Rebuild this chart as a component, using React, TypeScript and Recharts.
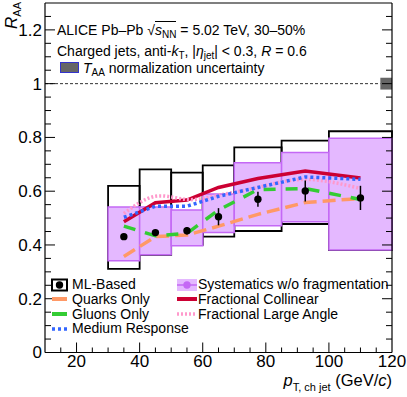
import React from "react";
import {
  ComposedChart,
  Line,
  Scatter,
  ErrorBar,
  XAxis,
  YAxis,
  ReferenceArea,
  ReferenceLine,
  Legend,
} from "recharts";

const FONT = '"Liberation Sans", Arial, Helvetica, sans-serif';

// pT bins (GeV/c)
const binLow = [30, 40, 50, 60, 70, 85, 100];
const binHigh = [40, 50, 60, 70, 85, 100, 120];
const ptCenter = [35, 45, 55, 65, 77.5, 92.5, 110];

// ML-based R_AA with stat. errors
const mlBased = [0.431, 0.446, 0.453, 0.505, 0.57, 0.601, 0.575];
const mlStatErr = [0.008, 0.01, 0.014, 0.032, 0.028, 0.039, 0.045];

// full systematics (open boxes)
const sysTotalLow = [0.311, 0.363, 0.4, 0.431, 0.452, 0.478, 0.381];
const sysTotalHigh = [0.62, 0.681, 0.669, 0.696, 0.763, 0.788, 0.823];

// systematics without fragmentation (filled boxes)
const sysNoFragLow = [0.341, 0.364, 0.397, 0.446, 0.471, 0.486, 0.381];
const sysNoFragHigh = [0.541, 0.541, 0.53, 0.59, 0.706, 0.744, 0.797];

// model variations
const quarksOnly = [0.357, 0.431, 0.437, 0.47, 0.514, 0.558, 0.573];
const gluonsOnly = [0.47, 0.434, 0.443, 0.53, 0.606, 0.61, 0.569];
const mediumResponse = [0.503, 0.544, 0.544, 0.581, 0.614, 0.653, 0.644];
const fracCollinear = [0.486, 0.557, 0.567, 0.614, 0.647, 0.675, 0.649];
const fracLargeAngle = [0.517, 0.581, 0.569, 0.585, 0.614, 0.644, 0.61];

const taaUnc = 0.022;

const xTicks = [15, 20, 25, 30, 35, 40, 45, 50, 55, 60, 65, 70, 75, 80, 85, 90, 95, 100, 105, 110, 115, 120];
const xLabels = [20, 40, 60, 80, 100, 120];
const yTicks = [
  0, 0.05, 0.1, 0.15, 0.2, 0.25, 0.3, 0.35, 0.4, 0.45, 0.5, 0.55, 0.6, 0.65, 0.7, 0.75, 0.8, 0.85, 0.9,
  0.95, 1, 1.05, 1.1, 1.15, 1.2, 1.25,
];
const yLabels = [0, 0.2, 0.4, 0.6, 0.8, 1, 1.2];

const chartData = ptCenter.map((pt, i) => ({
  pt,
  ml: mlBased[i],
  mlErr: mlStatErr[i],
  quarks: quarksOnly[i],
  gluons: gluonsOnly[i],
  medium: mediumResponse[i],
  collinear: fracCollinear[i],
  largeAngle: fracLargeAngle[i],
}));

const near = (a: number, list: number[]) => list.some((v) => Math.abs(v - a) < 1e-6);

function BottomTick(p: any) {
  const v = p.payload.value;
  const major = near(v, xLabels);
  return (
    <g>
      {!near(v, [120]) && <line x1={p.x} x2={p.x} y1={p.y} y2={p.y - (major ? 10 : 5)} stroke="#000" />}
      {major && (
        <text x={p.x} y={p.y + 14.5} textAnchor="middle" fontSize={17} fontFamily={FONT} fill="#000">
          {String(v)}
        </text>
      )}
    </g>
  );
}

function TopTick(p: any) {
  const v = p.payload.value;
  if (near(v, [120])) return <g />;
  const major = near(v, xLabels);
  return <line x1={p.x} x2={p.x} y1={p.y} y2={p.y + (major ? 10 : 5)} stroke="#000" />;
}

function LeftTick(p: any) {
  const v = p.payload.value;
  const major = near(v, yLabels);
  return (
    <g>
      {!near(v, [0]) && <line x1={p.x} x2={p.x + (major ? 10 : 6)} y1={p.y} y2={p.y} stroke="#000" />}
      {major && !near(v, [0]) && (
        <text x={p.x - 3} y={p.y + 6} textAnchor="end" fontSize={17} fontFamily={FONT} fill="#000">
          {String(v)}
        </text>
      )}
    </g>
  );
}

function RightTick(p: any) {
  const v = p.payload.value;
  if (near(v, [0])) return <g />;
  const major = near(v, yLabels);
  return <line x1={p.x} x2={p.x - (major ? 10 : 6)} y1={p.y} y2={p.y} stroke="#000" />;
}

const legendCol1 = [
  { name: "ML-Based", kind: "ml" },
  { name: "Quarks Only", kind: "quarks" },
  { name: "Gluons Only", kind: "gluons" },
  { name: "Medium Response", kind: "medium" },
];
const legendCol2 = [
  { name: "Systematics w/o fragmentation", kind: "sys" },
  { name: "Fractional Collinear", kind: "collinear" },
  { name: "Fractional Large Angle", kind: "largeAngle" },
];

function LegendSymbol({ kind }: { kind: string }) {
  return (
    <svg width={20} height={14} style={{ display: "block" }}>
      {kind === "ml" && (
        <>
          <rect x={1} y={1.5} width={15} height={11} fill="none" stroke="#000" strokeWidth={2} />
          <circle cx={8.5} cy={7} r={3.7} fill="#000" />
        </>
      )}
      {kind === "quarks" && <line x1={1} x2={16} y1={7} y2={7} stroke="#ff9966" strokeWidth={4} />}
      {kind === "gluons" && <line x1={1} x2={16} y1={7} y2={7} stroke="#33cc33" strokeWidth={4} />}
      {kind === "medium" && (
        <line x1={1} x2={16} y1={7} y2={7} stroke="#3366ff" strokeWidth={3.5} strokeDasharray="3 3" />
      )}
      {kind === "sys" && (
        <>
          <rect x={0} y={1} width={20} height={12} fill="#e4b8ff" />
          <line x1={0} x2={20} y1={7} y2={7} stroke="#c468f5" strokeWidth={1.5} />
          <circle cx={10} cy={7} r={3.7} fill="#c468f5" />
        </>
      )}
      {kind === "collinear" && <line x1={0} x2={20} y1={7} y2={7} stroke="#cc0033" strokeWidth={4} />}
      {kind === "largeAngle" && (
        <line x1={0} x2={20} y1={7} y2={7} stroke="#ff99cc" strokeWidth={3.5} strokeDasharray="2 2" />
      )}
    </svg>
  );
}

function LegendBox() {
  const row = (item: { name: string; kind: string }, i: number, left: number) => (
    <div
      key={item.name}
      style={{ position: "absolute", left, top: 277 + i * 14.8, height: 15, display: "flex", alignItems: "center" }}
    >
      <LegendSymbol kind={item.kind} />
      <span style={{ position: "absolute", left: 21, whiteSpace: "nowrap", fontSize: 14, lineHeight: "15px" }}>
        {item.name}
      </span>
    </div>
  );
  return (
    <div style={{ position: "relative", width: 407, height: 1, fontFamily: FONT, color: "#000" }}>
      {legendCol1.map((it, i) => row(it, i, 51))}
      {legendCol2.map((it, i) => row(it, i, 177))}
    </div>
  );
}

const sub: React.CSSProperties = { fontSize: 10, position: "relative", top: 3 };

export default function App() {
  return (
    <div
      style={{ position: "absolute", left: 0, top: 0, width: 407, height: 397, background: "#fff", fontFamily: FONT }}
    >
      <ComposedChart
        width={407}
        height={397}
        data={chartData}
        margin={{ top: 2, right: 14, bottom: 0, left: 0 }}
      >
        <XAxis
          dataKey="pt"
          type="number"
          domain={[10, 120]}
          ticks={xTicks}
          interval={0}
          allowDataOverflow
          height={44.5}
          tickSize={0}
          tickMargin={0}
          tickLine={false}
          axisLine={{ stroke: "#000", strokeWidth: 1.2 }}
          tick={(p: any) => <BottomTick {...p} />}
        />
        <XAxis
          xAxisId="top"
          orientation="top"
          type="number"
          domain={[10, 120]}
          ticks={xTicks}
          interval={0}
          allowDataOverflow
          height={1}
          tickSize={0}
          tickMargin={0}
          tickLine={false}
          axisLine={{ stroke: "#000", strokeWidth: 1.2 }}
          tick={(p: any) => <TopTick {...p} />}
        />
        <YAxis
          type="number"
          domain={[0, 1.3]}
          ticks={yTicks}
          interval={0}
          allowDataOverflow
          width={45}
          tickSize={0}
          tickMargin={0}
          tickLine={false}
          axisLine={{ stroke: "#000", strokeWidth: 1.2 }}
          tick={(p: any) => <LeftTick {...p} />}
        />
        <YAxis
          yAxisId="right"
          orientation="right"
          type="number"
          domain={[0, 1.3]}
          ticks={yTicks}
          interval={0}
          allowDataOverflow
          width={1}
          tickSize={0}
          tickMargin={0}
          tickLine={false}
          axisLine={{ stroke: "#000", strokeWidth: 1.2 }}
          tick={(p: any) => <RightTick {...p} />}
        />

        {binLow.map((lo, i) => (
          <ReferenceArea
            key={`tot-${i}`}
            x1={lo}
            x2={binHigh[i]}
            y1={sysTotalLow[i]}
            y2={sysTotalHigh[i]}
            fill="none"
            stroke="#000"
            strokeWidth={1.8}
          />
        ))}
        {binLow.map((lo, i) => (
          <ReferenceArea
            key={`nofrag-${i}`}
            x1={lo}
            x2={binHigh[i]}
            y1={sysNoFragLow[i]}
            y2={sysNoFragHigh[i]}
            fill="#e4b8ff"
            fillOpacity={1}
            stroke="#c468f5"
            strokeWidth={1.5}
          />
        ))}

        <ReferenceLine
          segment={[
            { x: 10, y: 1 },
            { x: 120 - 3.7, y: 1 },
          ]}
          stroke="#333"
          strokeDasharray="3 2"
          strokeWidth={1}
        />
        <ReferenceArea x1={120 - 3.7} x2={120} y1={1 - taaUnc} y2={1 + taaUnc} fill="#666" fillOpacity={1} />

        <Line dataKey="quarks" stroke="#ff9966" strokeWidth={3.5} strokeDasharray="13 6" dot={false} isAnimationActive={false} />
        <Line dataKey="gluons" stroke="#33cc33" strokeWidth={3.5} strokeDasharray="12 10" dot={false} isAnimationActive={false} />
        <Line dataKey="collinear" stroke="#cc0033" strokeWidth={3.5} dot={false} isAnimationActive={false} />
        <Line
          dataKey="largeAngle"
          type="natural"
          stroke="#ff99cc"
          strokeWidth={3.5}
          strokeDasharray="2 2"
          dot={false}
          isAnimationActive={false}
        />
        <Line dataKey="medium" stroke="#3366ff" strokeWidth={3.5} strokeDasharray="3 3" dot={false} isAnimationActive={false} />

        <Scatter
          dataKey="ml"
          isAnimationActive={false}
          shape={(p: any) => <circle cx={p.cx} cy={p.cy} r={3.7} fill="#000" />}
        >
          <ErrorBar dataKey="mlErr" direction="y" width={0} stroke="#000" strokeWidth={1.5} isAnimationActive={false} />
        </Scatter>

        <Legend
          layout="horizontal"
          verticalAlign="middle"
          align="center"
          wrapperStyle={{ left: 0, top: 0, width: 407, height: 1 }}
          content={() => <LegendBox />}
        />
      </ComposedChart>

      {/* y-axis title */}
      <svg style={{ position: "absolute", left: 0, top: 0, overflow: "visible" }} width={30} height={40}>
        <text transform="rotate(-90)" x={-2} y={16.5} textAnchor="end" fontSize={17} fontFamily={FONT}>
          <tspan fontStyle="italic">R</tspan>
          <tspan fontSize={11} dy={4}>
            AA
          </tspan>
        </text>
      </svg>

      {/* y-axis zero label */}
      <div
        style={{
          position: "absolute",
          right: 407 - 42,
          top: 343,
          fontSize: 17,
          lineHeight: "20px",
          color: "#000",
        }}
      >
        0
      </div>

      {/* x-axis title */}
      <div style={{ position: "absolute", right: 15, top: 371, fontSize: 16.5, whiteSpace: "nowrap", lineHeight: "18px" }}>
        <i>p</i>
        <span style={{ fontSize: 11, position: "relative", top: 5 }}>T, ch jet</span> (GeV/<i>c</i>)
      </div>

      {/* annotations */}
      <div style={{ position: "absolute", left: 57, top: 22, fontSize: 14, lineHeight: "16px", whiteSpace: "nowrap" }}>
        ALICE Pb–Pb √<span style={{ borderTop: "1px solid #000" }}>
          <i>s</i>
          <span style={sub}>NN</span>
        </span>{" "}
        = 5.02 TeV, 30–50%
      </div>
      <div style={{ position: "absolute", left: 57, top: 43, fontSize: 14, lineHeight: "16px", whiteSpace: "nowrap" }}>
        Charged jets, anti-<i>k</i>
        <span style={sub}>T</span>, |<i>η</i>
        <span style={sub}>jet</span>| &lt; 0.3, <i>R</i> = 0.6
      </div>
      <div
        style={{
          position: "absolute",
          left: 60,
          top: 62,
          width: 17,
          height: 9,
          background: "#666",
          border: "1px solid #3333cc",
        }}
      />
      <div style={{ position: "absolute", left: 83, top: 60, fontSize: 14, lineHeight: "16px", whiteSpace: "nowrap" }}>
        <i>T</i>
        <span style={sub}>AA</span> normalization uncertainty
      </div>
    </div>
  );
}
